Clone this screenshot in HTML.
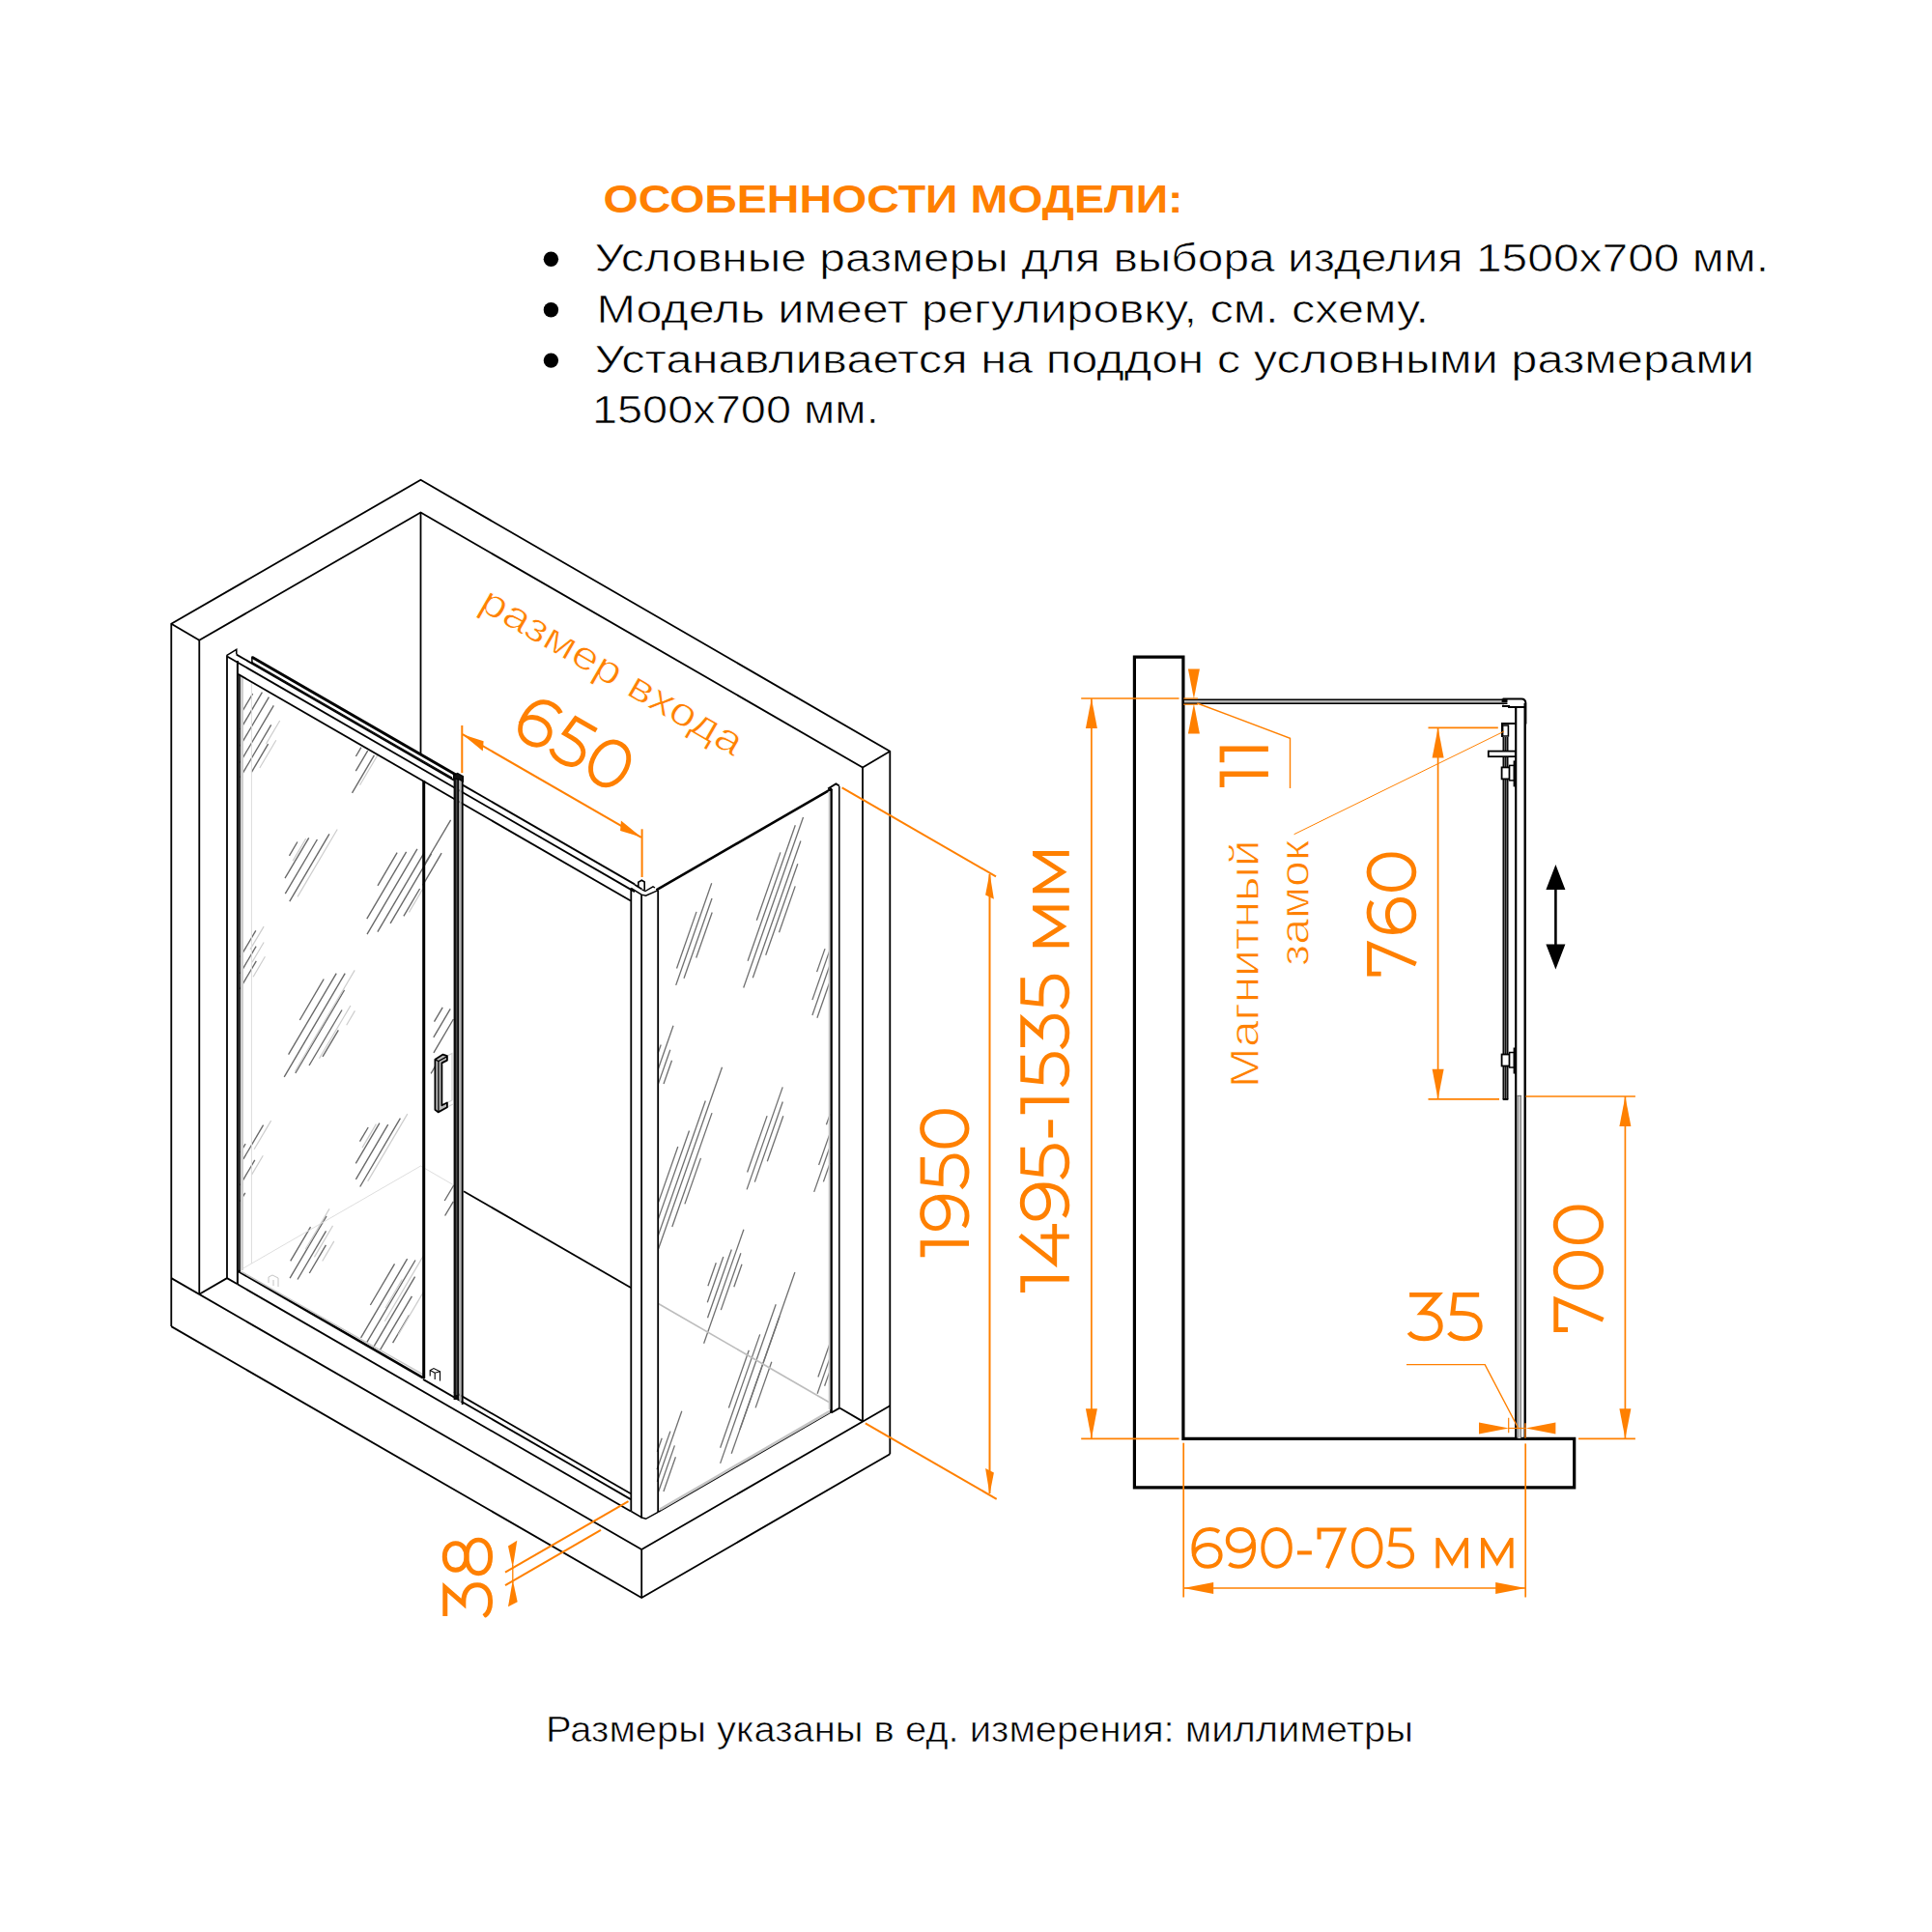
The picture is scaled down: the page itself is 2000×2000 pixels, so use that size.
<!DOCTYPE html>
<html><head><meta charset="utf-8"><title>scheme</title>
<style>html,body{margin:0;padding:0;background:#fff;}svg{display:block;font-family:"Liberation Sans",sans-serif;}</style>
</head><body>
<svg width="2000" height="2000" viewBox="0 0 2000 2000">
<rect width="2000" height="2000" fill="#fff"/>
<text x="624.5" y="220.3" font-size="41" fill="#ff8000" font-weight="bold" text-anchor="start" textLength="600.1" lengthAdjust="spacingAndGlyphs" >ОСОБЕННОСТИ МОДЕЛИ:</text>
<text x="615.5" y="281.2" font-size="41.2" fill="#000" font-weight="normal" text-anchor="start" textLength="1215.6" lengthAdjust="spacingAndGlyphs" stroke="#fff" stroke-width="0.7" >Условные размеры для выбора изделия 1500х700 мм.</text>
<text x="617.4" y="333.5" font-size="41.2" fill="#000" font-weight="normal" text-anchor="start" textLength="861.6" lengthAdjust="spacingAndGlyphs" stroke="#fff" stroke-width="0.7" >Модель имеет регулировку, см. схему.</text>
<text x="615.5" y="386.0" font-size="41.2" fill="#000" font-weight="normal" text-anchor="start" textLength="1200.5" lengthAdjust="spacingAndGlyphs" stroke="#fff" stroke-width="0.7" >Устанавливается на поддон с условными размерами</text>
<text x="612.9" y="438.4" font-size="41.2" fill="#000" font-weight="normal" text-anchor="start" textLength="296.8" lengthAdjust="spacingAndGlyphs" stroke="#fff" stroke-width="0.7" >1500х700 мм.</text>
<circle cx="570.4" cy="268.3" r="7.7" fill="#000"/>
<circle cx="570.4" cy="320.7" r="7.7" fill="#000"/>
<circle cx="570.4" cy="373.1" r="7.7" fill="#000"/>
<text x="565.0" y="1802.8" font-size="36.5" fill="#000" font-weight="normal" text-anchor="start" textLength="898.0" lengthAdjust="spacingAndGlyphs" stroke="#fff" stroke-width="0.6" >Размеры указаны в ед. измерения: миллиметры</text>
<g transform="translate(1106.8 1338.0) rotate(-90) translate(0.00 -50.50) scale(1.1333 1.0000)"><path d="M0 2.45 L12.55 2.45 L12.55 50.5" fill="none" stroke="#ff8000" stroke-width="4.9" stroke-linejoin="miter" stroke-miterlimit="6"/></g>
<g transform="translate(1106.8 1338.0) rotate(-90) translate(27.30 -50.50) scale(1.0000 1.0000)"><path d="M31.8 -0.3 L3.6 35.4 L43.7 35.4" fill="none" stroke="#ff8000" stroke-width="4.9" stroke-linejoin="miter" stroke-miterlimit="6"/><path d="M30.6 21 L30.6 50.5" fill="none" stroke="#ff8000" stroke-width="4.9" stroke-linejoin="miter" stroke-miterlimit="6"/></g>
<g transform="translate(1106.8 1338.0) rotate(-90) translate(74.40 -50.50) scale(1.0317 1.0000)"><path d="M33.6 5.4 C30.5 3.2 26.6 1.95 22.2 1.95 C9.6 1.95 2.45 11.5 2.45 26.5 C2.45 40.5 9 48.55 20 48.55 C29 48.55 35.35 42.6 35.35 34.6 C35.35 26.8 29.2 21.2 20.4 21.2 C11 21.2 2.9 27.2 2.9 35.5" transform="rotate(180 18.90 25.25)" fill="none" stroke="#ff8000" stroke-width="4.9" stroke-linejoin="miter" stroke-miterlimit="6"/></g>
<g transform="translate(1106.8 1338.0) rotate(-90) translate(117.40 -50.50) scale(1.0111 1.0000)"><path d="M32.5 2.45 L7.6 2.45 L5.4 21.6 L14.5 21.6 C26.5 21.6 33.55 26.8 33.55 35.3 C33.55 43.5 27 48.55 17 48.55 C10 48.55 4.6 46 1.6 42.2" fill="none" stroke="#ff8000" stroke-width="4.9" stroke-linejoin="miter" stroke-miterlimit="6"/></g>
<g transform="translate(1106.8 1338.0) rotate(-90) translate(160.50 -50.50) scale(1.0111 1.0000)"><path d="M0 31.35 L18 31.35" fill="none" stroke="#ff8000" stroke-width="4.9" stroke-linejoin="miter" stroke-miterlimit="6"/></g>
<g transform="translate(1106.8 1338.0) rotate(-90) translate(184.70 -50.50) scale(1.1267 1.0000)"><path d="M0 2.45 L12.55 2.45 L12.55 50.5" fill="none" stroke="#ff8000" stroke-width="4.9" stroke-linejoin="miter" stroke-miterlimit="6"/></g>
<g transform="translate(1106.8 1338.0) rotate(-90) translate(213.00 -50.50) scale(0.9917 1.0000)"><path d="M32.5 2.45 L7.6 2.45 L5.4 21.6 L14.5 21.6 C26.5 21.6 33.55 26.8 33.55 35.3 C33.55 43.5 27 48.55 17 48.55 C10 48.55 4.6 46 1.6 42.2" fill="none" stroke="#ff8000" stroke-width="4.9" stroke-linejoin="miter" stroke-miterlimit="6"/></g>
<g transform="translate(1106.8 1338.0) rotate(-90) translate(252.30 -50.50) scale(0.9808 1.0000)"><path d="M1.8 2.45 L31.2 2.45 L14.6 21.2 L16.5 21.2 C27.5 21.2 33.95 26.8 33.95 35.3 C33.95 43.5 27 48.55 16.8 48.55 C9.6 48.55 4.2 46 1.4 42" fill="none" stroke="#ff8000" stroke-width="4.9" stroke-linejoin="miter" stroke-miterlimit="6"/></g>
<g transform="translate(1106.8 1338.0) rotate(-90) translate(293.50 -50.50) scale(0.9917 1.0000)"><path d="M32.5 2.45 L7.6 2.45 L5.4 21.6 L14.5 21.6 C26.5 21.6 33.55 26.8 33.55 35.3 C33.55 43.5 27 48.55 17 48.55 C10 48.55 4.6 46 1.6 42.2" fill="none" stroke="#ff8000" stroke-width="4.9" stroke-linejoin="miter" stroke-miterlimit="6"/></g>
<g transform="translate(1106.8 1338.0) rotate(-90) translate(357.80 -50.50) scale(1.0000 1.0000)"><path d="M2.45 50.5 L2.45 12.7" fill="none" stroke="#ff8000" stroke-width="4.9" stroke-linejoin="miter" stroke-miterlimit="6"/><path d="M40.15 50.5 L40.15 12.7" fill="none" stroke="#ff8000" stroke-width="4.9" stroke-linejoin="miter" stroke-miterlimit="6"/><path d="M3 14.6 L21.3 43.6 L39.6 14.6" fill="none" stroke="#ff8000" stroke-width="4.9" stroke-linejoin="miter" stroke-miterlimit="6"/></g>
<g transform="translate(1106.8 1338.0) rotate(-90) translate(413.70 -50.50) scale(1.0164 1.0000)"><path d="M2.45 50.5 L2.45 12.7" fill="none" stroke="#ff8000" stroke-width="4.9" stroke-linejoin="miter" stroke-miterlimit="6"/><path d="M40.15 50.5 L40.15 12.7" fill="none" stroke="#ff8000" stroke-width="4.9" stroke-linejoin="miter" stroke-miterlimit="6"/><path d="M3 14.6 L21.3 43.6 L39.6 14.6" fill="none" stroke="#ff8000" stroke-width="4.9" stroke-linejoin="miter" stroke-miterlimit="6"/></g>
<g transform="translate(1003.0 1301.3) rotate(-90) translate(0.00 -50.40) scale(1.1400 0.9980)"><path d="M0 2.45 L12.55 2.45 L12.55 50.5" fill="none" stroke="#ff8000" stroke-width="4.9" stroke-linejoin="miter" stroke-miterlimit="6"/></g>
<g transform="translate(1003.0 1301.3) rotate(-90) translate(27.20 -50.40) scale(0.9894 0.9980)"><path d="M33.6 5.4 C30.5 3.2 26.6 1.95 22.2 1.95 C9.6 1.95 2.45 11.5 2.45 26.5 C2.45 40.5 9 48.55 20 48.55 C29 48.55 35.35 42.6 35.35 34.6 C35.35 26.8 29.2 21.2 20.4 21.2 C11 21.2 2.9 27.2 2.9 35.5" transform="rotate(180 18.90 25.25)" fill="none" stroke="#ff8000" stroke-width="4.9" stroke-linejoin="miter" stroke-miterlimit="6"/></g>
<g transform="translate(1003.0 1301.3) rotate(-90) translate(70.50 -50.40) scale(1.0111 0.9980)"><path d="M32.5 2.45 L7.6 2.45 L5.4 21.6 L14.5 21.6 C26.5 21.6 33.55 26.8 33.55 35.3 C33.55 43.5 27 48.55 17 48.55 C10 48.55 4.6 46 1.6 42.2" fill="none" stroke="#ff8000" stroke-width="4.9" stroke-linejoin="miter" stroke-miterlimit="6"/></g>
<g transform="translate(1003.0 1301.3) rotate(-90) translate(112.80 -50.40) scale(0.9975 0.9980)"><path d="M20.2 1.95 C31 1.95 37.95 12 37.95 25.25 C37.95 38.5 31 48.55 20.2 48.55 C9.4 48.55 2.45 38.5 2.45 25.25 C2.45 12 9.4 1.95 20.2 1.95 Z" fill="none" stroke="#ff8000" stroke-width="4.9" stroke-linejoin="miter" stroke-miterlimit="6"/></g>
<g transform="translate(1465.8 1010.6) rotate(-90) translate(0.00 -50.70) scale(1.0000 1.0040)"><path d="M2.45 14.5 L2.45 2.45 L33.2 2.45 L12.6 50.5" fill="none" stroke="#ff8000" stroke-width="4.9" stroke-linejoin="miter" stroke-miterlimit="6"/></g>
<g transform="translate(1465.8 1010.6) rotate(-90) translate(43.70 -50.70) scale(1.0000 1.0040)"><path d="M33.6 5.4 C30.5 3.2 26.6 1.95 22.2 1.95 C9.6 1.95 2.45 11.5 2.45 26.5 C2.45 40.5 9 48.55 20 48.55 C29 48.55 35.35 42.6 35.35 34.6 C35.35 26.8 29.2 21.2 20.4 21.2 C11 21.2 2.9 27.2 2.9 35.5" fill="none" stroke="#ff8000" stroke-width="4.9" stroke-linejoin="miter" stroke-miterlimit="6"/></g>
<g transform="translate(1465.8 1010.6) rotate(-90) translate(87.70 -50.70) scale(1.0025 1.0040)"><path d="M20.2 1.95 C31 1.95 37.95 12 37.95 25.25 C37.95 38.5 31 48.55 20.2 48.55 C9.4 48.55 2.45 38.5 2.45 25.25 C2.45 12 9.4 1.95 20.2 1.95 Z" fill="none" stroke="#ff8000" stroke-width="4.9" stroke-linejoin="miter" stroke-miterlimit="6"/></g>
<g transform="translate(1659.6 1378.9) rotate(-90) translate(0.00 -51.30) scale(1.0081 1.0158)"><path d="M2.45 14.5 L2.45 2.45 L33.2 2.45 L12.6 50.5" fill="none" stroke="#ff8000" stroke-width="4.9" stroke-linejoin="miter" stroke-miterlimit="6"/></g>
<g transform="translate(1659.6 1378.9) rotate(-90) translate(43.80 -51.30) scale(0.9901 1.0158)"><path d="M20.2 1.95 C31 1.95 37.95 12 37.95 25.25 C37.95 38.5 31 48.55 20.2 48.55 C9.4 48.55 2.45 38.5 2.45 25.25 C2.45 12 9.4 1.95 20.2 1.95 Z" fill="none" stroke="#ff8000" stroke-width="4.9" stroke-linejoin="miter" stroke-miterlimit="6"/></g>
<g transform="translate(1659.6 1378.9) rotate(-90) translate(90.80 -51.30) scale(1.0025 1.0158)"><path d="M20.2 1.95 C31 1.95 37.95 12 37.95 25.25 C37.95 38.5 31 48.55 20.2 48.55 C9.4 48.55 2.45 38.5 2.45 25.25 C2.45 12 9.4 1.95 20.2 1.95 Z" fill="none" stroke="#ff8000" stroke-width="4.9" stroke-linejoin="miter" stroke-miterlimit="6"/></g>
<g transform="translate(1312.9 815.0) rotate(-90) translate(0.00 -50.30) scale(1.0933 0.9960)"><path d="M0 2.45 L12.55 2.45 L12.55 50.5" fill="none" stroke="#ff8000" stroke-width="4.9" stroke-linejoin="miter" stroke-miterlimit="6"/></g>
<g transform="translate(1312.9 815.0) rotate(-90) translate(25.80 -50.30) scale(1.1200 0.9960)"><path d="M0 2.45 L12.55 2.45 L12.55 50.5" fill="none" stroke="#ff8000" stroke-width="4.9" stroke-linejoin="miter" stroke-miterlimit="6"/></g>
<clipPath id="c38"><rect x="400" y="1500" width="200" height="174.6"/></clipPath>
<g clip-path="url(#c38)">
<g transform="translate(509.6 1674.7) rotate(-90) translate(0.00 -51.30) scale(1.0000 1.0158)"><path d="M1.8 2.45 L31.2 2.45 L14.6 21.2 L16.5 21.2 C27.5 21.2 33.95 26.8 33.95 35.3 C33.95 43.5 27 48.55 16.8 48.55 C9.6 48.55 4.2 46 1.4 42" fill="none" stroke="#ff8000" stroke-width="4.9" stroke-linejoin="miter" stroke-miterlimit="6"/></g>
<g transform="translate(509.6 1674.7) rotate(-90) translate(43.50 -51.30) scale(1.0000 1.0158)"><path d="M19.75 1.95 C28 1.95 33.6 6.8 33.6 13.2 C33.6 19.8 28 24.3 19.75 24.3 C11.5 24.3 5.9 19.8 5.9 13.2 C5.9 6.8 11.5 1.95 19.75 1.95 Z" fill="none" stroke="#ff8000" stroke-width="4.9" stroke-linejoin="miter" stroke-miterlimit="6"/><path d="M19.75 24.3 C30 24.3 37.05 29.3 37.05 36.4 C37.05 43.6 30 48.55 19.75 48.55 C9.5 48.55 2.45 43.6 2.45 36.4 C2.45 29.3 9.5 24.3 19.75 24.3 Z" fill="none" stroke="#ff8000" stroke-width="4.9" stroke-linejoin="miter" stroke-miterlimit="6"/></g>
</g>
<g transform="translate(0.0 1387.8) rotate(0) translate(1457.30 -49.80) scale(1.0000 0.9861)"><path d="M1.8 2.45 L31.2 2.45 L14.6 21.2 L16.5 21.2 C27.5 21.2 33.95 26.8 33.95 35.3 C33.95 43.5 27 48.55 16.8 48.55 C9.6 48.55 4.2 46 1.4 42" fill="none" stroke="#ff8000" stroke-width="4.9" stroke-linejoin="miter" stroke-miterlimit="6"/></g>
<g transform="translate(0.0 1387.8) rotate(0) translate(1498.40 -49.80) scale(1.0083 0.9861)"><path d="M32.5 2.45 L7.6 2.45 L5.4 21.6 L14.5 21.6 C26.5 21.6 33.55 26.8 33.55 35.3 C33.55 43.5 27 48.55 17 48.55 C10 48.55 4.6 46 1.6 42.2" fill="none" stroke="#ff8000" stroke-width="4.9" stroke-linejoin="miter" stroke-miterlimit="6"/></g>
<g transform="translate(0.0 1623.3) rotate(0) translate(1233.40 -41.90) scale(0.8519 0.8297)"><path d="M33.6 5.4 C30.5 3.2 26.6 1.95 22.2 1.95 C9.6 1.95 2.45 11.5 2.45 26.5 C2.45 40.5 9 48.55 20 48.55 C29 48.55 35.35 42.6 35.35 34.6 C35.35 26.8 29.2 21.2 20.4 21.2 C11 21.2 2.9 27.2 2.9 35.5" fill="none" stroke="#ff8000" stroke-width="4.9" stroke-linejoin="miter" stroke-miterlimit="6"/></g>
<g transform="translate(0.0 1623.3) rotate(0) translate(1268.80 -41.90) scale(0.8280 0.8297)"><path d="M33.6 5.4 C30.5 3.2 26.6 1.95 22.2 1.95 C9.6 1.95 2.45 11.5 2.45 26.5 C2.45 40.5 9 48.55 20 48.55 C29 48.55 35.35 42.6 35.35 34.6 C35.35 26.8 29.2 21.2 20.4 21.2 C11 21.2 2.9 27.2 2.9 35.5" transform="rotate(180 18.90 25.25)" fill="none" stroke="#ff8000" stroke-width="4.9" stroke-linejoin="miter" stroke-miterlimit="6"/></g>
<g transform="translate(0.0 1623.3) rotate(0) translate(1305.30 -41.90) scale(0.8045 0.8297)"><path d="M20.2 1.95 C31 1.95 37.95 12 37.95 25.25 C37.95 38.5 31 48.55 20.2 48.55 C9.4 48.55 2.45 38.5 2.45 25.25 C2.45 12 9.4 1.95 20.2 1.95 Z" fill="none" stroke="#ff8000" stroke-width="4.9" stroke-linejoin="miter" stroke-miterlimit="6"/></g>
<g transform="translate(0.0 1623.3) rotate(0) translate(1343.00 -41.90) scale(0.8278 0.8297)"><path d="M0 31.35 L18 31.35" fill="none" stroke="#ff8000" stroke-width="4.9" stroke-linejoin="miter" stroke-miterlimit="6"/></g>
<g transform="translate(0.0 1623.3) rotate(0) translate(1363.50 -41.90) scale(0.8320 0.8297)"><path d="M2.45 14.5 L2.45 2.45 L33.2 2.45 L12.6 50.5" fill="none" stroke="#ff8000" stroke-width="4.9" stroke-linejoin="miter" stroke-miterlimit="6"/></g>
<g transform="translate(0.0 1623.3) rotate(0) translate(1398.90 -41.90) scale(0.8069 0.8297)"><path d="M20.2 1.95 C31 1.95 37.95 12 37.95 25.25 C37.95 38.5 31 48.55 20.2 48.55 C9.4 48.55 2.45 38.5 2.45 25.25 C2.45 12 9.4 1.95 20.2 1.95 Z" fill="none" stroke="#ff8000" stroke-width="4.9" stroke-linejoin="miter" stroke-miterlimit="6"/></g>
<g transform="translate(0.0 1623.3) rotate(0) translate(1435.20 -41.90) scale(0.8028 0.8297)"><path d="M32.5 2.45 L7.6 2.45 L5.4 21.6 L14.5 21.6 C26.5 21.6 33.55 26.8 33.55 35.3 C33.55 43.5 27 48.55 17 48.55 C10 48.55 4.6 46 1.6 42.2" fill="none" stroke="#ff8000" stroke-width="4.9" stroke-linejoin="miter" stroke-miterlimit="6"/></g>
<g transform="translate(0.0 1623.3) rotate(0) translate(1486.40 -41.90) scale(0.7887 0.8297)"><path d="M2.45 50.5 L2.45 12.7" fill="none" stroke="#ff8000" stroke-width="4.9" stroke-linejoin="miter" stroke-miterlimit="6"/><path d="M40.15 50.5 L40.15 12.7" fill="none" stroke="#ff8000" stroke-width="4.9" stroke-linejoin="miter" stroke-miterlimit="6"/><path d="M3 14.6 L21.3 43.6 L39.6 14.6" fill="none" stroke="#ff8000" stroke-width="4.9" stroke-linejoin="miter" stroke-miterlimit="6"/></g>
<g transform="translate(0.0 1623.3) rotate(0) translate(1533.00 -41.90) scale(0.7887 0.8297)"><path d="M2.45 50.5 L2.45 12.7" fill="none" stroke="#ff8000" stroke-width="4.9" stroke-linejoin="miter" stroke-miterlimit="6"/><path d="M40.15 50.5 L40.15 12.7" fill="none" stroke="#ff8000" stroke-width="4.9" stroke-linejoin="miter" stroke-miterlimit="6"/><path d="M3 14.6 L21.3 43.6 L39.6 14.6" fill="none" stroke="#ff8000" stroke-width="4.9" stroke-linejoin="miter" stroke-miterlimit="6"/></g>
<g transform="translate(528.8 760.5) rotate(30) translate(0.00 -50.50) scale(1.0000 1.0000)"><path d="M33.6 5.4 C30.5 3.2 26.6 1.95 22.2 1.95 C9.6 1.95 2.45 11.5 2.45 26.5 C2.45 40.5 9 48.55 20 48.55 C29 48.55 35.35 42.6 35.35 34.6 C35.35 26.8 29.2 21.2 20.4 21.2 C11 21.2 2.9 27.2 2.9 35.5" fill="none" stroke="#ff8000" stroke-width="4.9" stroke-linejoin="miter" stroke-miterlimit="6"/></g>
<g transform="translate(528.8 760.5) rotate(30) translate(42.20 -50.50) scale(1.0000 1.0000)"><path d="M32.5 2.45 L7.6 2.45 L5.4 21.6 L14.5 21.6 C26.5 21.6 33.55 26.8 33.55 35.3 C33.55 43.5 27 48.55 17 48.55 C10 48.55 4.6 46 1.6 42.2" fill="none" stroke="#ff8000" stroke-width="4.9" stroke-linejoin="miter" stroke-miterlimit="6"/></g>
<g transform="translate(528.8 760.5) rotate(30) translate(83.40 -50.50) scale(1.0000 1.0000)"><path d="M20.2 1.95 C31 1.95 37.95 12 37.95 25.25 C37.95 38.5 31 48.55 20.2 48.55 C9.4 48.55 2.45 38.5 2.45 25.25 C2.45 12 9.4 1.95 20.2 1.95 Z" fill="none" stroke="#ff8000" stroke-width="4.9" stroke-linejoin="miter" stroke-miterlimit="6"/></g>
<text transform="translate(1302.8 1126.0) rotate(-90)" font-size="42.3" fill="#ff8000" font-weight="normal" text-anchor="start" textLength="256.5" lengthAdjust="spacingAndGlyphs" stroke="#fff" stroke-width="0.9" >Магнитный</text>
<text transform="translate(1355.1 999.9) rotate(-90)" font-size="42.3" fill="#ff8000" font-weight="normal" text-anchor="start" textLength="129.9" lengthAdjust="spacingAndGlyphs" stroke="#fff" stroke-width="0.9" >замок</text>
<text transform="translate(494.1 630.0) rotate(30)" font-size="41" fill="#ff8000" font-weight="normal" text-anchor="start" textLength="306.8" lengthAdjust="spacingAndGlyphs" stroke="#fff" stroke-width="0.8" >размер входа</text>
<line x1="249.6" y1="738.5" x2="261.6" y2="718.1" stroke="#686868" stroke-width="1.35" />
<line x1="248.8" y1="755.2" x2="271.4" y2="716.7" stroke="#686868" stroke-width="1.35" />
<line x1="248.5" y1="772.3" x2="278.4" y2="721.6" stroke="#686868" stroke-width="1.35" />
<line x1="248.4" y1="789.5" x2="283.3" y2="730.3" stroke="#686868" stroke-width="1.35" />
<line x1="248.6" y1="804.9" x2="280.7" y2="750.4" stroke="#686868" stroke-width="1.35" />
<line x1="260.4" y1="799.4" x2="277.6" y2="770.2" stroke="#686868" stroke-width="1.35" />
<line x1="368.4" y1="783.0" x2="373.9" y2="773.6" stroke="#686868" stroke-width="1.35" />
<line x1="368.3" y1="798.2" x2="380.7" y2="777.1" stroke="#686868" stroke-width="1.35" />
<line x1="364.5" y1="820.8" x2="387.4" y2="781.9" stroke="#686868" stroke-width="1.35" />
<line x1="299.5" y1="885.8" x2="307.9" y2="871.5" stroke="#686868" stroke-width="1.35" />
<line x1="295.0" y1="909.2" x2="319.7" y2="867.3" stroke="#686868" stroke-width="1.35" />
<line x1="295.3" y1="925.2" x2="328.4" y2="869.0" stroke="#686868" stroke-width="1.35" />
<line x1="299.8" y1="933.2" x2="340.9" y2="863.3" stroke="#686868" stroke-width="1.35" />
<line x1="391.0" y1="916.8" x2="411.1" y2="882.6" stroke="#686868" stroke-width="1.35" />
<line x1="379.8" y1="951.1" x2="420.6" y2="881.8" stroke="#686868" stroke-width="1.35" />
<line x1="380.0" y1="967.1" x2="431.9" y2="878.9" stroke="#686868" stroke-width="1.35" />
<line x1="390.9" y1="964.6" x2="439.6" y2="881.8" stroke="#686868" stroke-width="1.35" />
<line x1="404.1" y1="955.8" x2="446.5" y2="883.8" stroke="#686868" stroke-width="1.35" />
<line x1="417.9" y1="948.4" x2="434.6" y2="920.0" stroke="#686868" stroke-width="1.35" />
<line x1="438.5" y1="896.5" x2="466.6" y2="848.8" stroke="#686868" stroke-width="1.35" />
<line x1="437.6" y1="916.3" x2="457.1" y2="883.1" stroke="#686868" stroke-width="1.35" />
<line x1="248.7" y1="990.7" x2="264.8" y2="963.4" stroke="#686868" stroke-width="1.35" />
<line x1="248.5" y1="1007.8" x2="265.1" y2="979.7" stroke="#686868" stroke-width="1.35" />
<line x1="248.2" y1="1023.9" x2="265.3" y2="994.8" stroke="#686868" stroke-width="1.35" />
<line x1="268.8" y1="795.0" x2="285.8" y2="766.2" stroke="#cdcdcd" stroke-width="1.2" />
<line x1="275.5" y1="770.0" x2="289.7" y2="746.0" stroke="#cdcdcd" stroke-width="1.2" />
<line x1="372.5" y1="812.8" x2="390.9" y2="781.7" stroke="#cdcdcd" stroke-width="1.2" />
<line x1="308.0" y1="928.4" x2="349.2" y2="858.5" stroke="#cdcdcd" stroke-width="1.2" />
<line x1="303.2" y1="891.1" x2="316.7" y2="868.1" stroke="#cdcdcd" stroke-width="1.2" />
<line x1="259.0" y1="982.9" x2="273.1" y2="959.1" stroke="#cdcdcd" stroke-width="1.2" />
<line x1="260.9" y1="996.3" x2="273.1" y2="975.5" stroke="#cdcdcd" stroke-width="1.2" />
<line x1="262.1" y1="1011.2" x2="274.4" y2="990.2" stroke="#cdcdcd" stroke-width="1.2" />
<line x1="423.4" y1="944.4" x2="437.7" y2="920.1" stroke="#cdcdcd" stroke-width="1.2" />
<line x1="310.3" y1="1056.0" x2="335.2" y2="1013.5" stroke="#686868" stroke-width="1.35" />
<line x1="298.6" y1="1091.7" x2="348.2" y2="1007.6" stroke="#686868" stroke-width="1.35" />
<line x1="294.2" y1="1114.8" x2="357.2" y2="1007.6" stroke="#686868" stroke-width="1.35" />
<line x1="305.8" y1="1110.8" x2="356.5" y2="1024.8" stroke="#686868" stroke-width="1.35" />
<line x1="320.0" y1="1103.0" x2="354.0" y2="1045.5" stroke="#686868" stroke-width="1.35" />
<line x1="334.0" y1="1093.8" x2="350.3" y2="1066.3" stroke="#686868" stroke-width="1.35" />
<line x1="305.5" y1="1109.1" x2="367.2" y2="1004.4" stroke="#cdcdcd" stroke-width="1.2" />
<line x1="330.5" y1="1095.8" x2="362.9" y2="1041.0" stroke="#cdcdcd" stroke-width="1.2" />
<line x1="372.5" y1="1181.7" x2="381.2" y2="1167.0" stroke="#686868" stroke-width="1.35" />
<line x1="368.3" y1="1204.4" x2="392.9" y2="1162.7" stroke="#686868" stroke-width="1.35" />
<line x1="368.4" y1="1220.8" x2="401.7" y2="1164.2" stroke="#686868" stroke-width="1.35" />
<line x1="372.7" y1="1228.5" x2="414.4" y2="1157.7" stroke="#686868" stroke-width="1.35" />
<line x1="251.9" y1="1199.8" x2="272.6" y2="1164.6" stroke="#686868" stroke-width="1.35" />
<line x1="248.5" y1="1226.8" x2="263.8" y2="1200.9" stroke="#686868" stroke-width="1.35" />
<line x1="248.5" y1="1243.7" x2="253.8" y2="1234.8" stroke="#686868" stroke-width="1.35" />
<line x1="248.8" y1="1193.0" x2="254.1" y2="1184.1" stroke="#686868" stroke-width="1.35" />
<line x1="300.7" y1="1305.4" x2="321.5" y2="1270.1" stroke="#686868" stroke-width="1.35" />
<line x1="300.1" y1="1323.1" x2="338.0" y2="1258.8" stroke="#686868" stroke-width="1.35" />
<line x1="308.0" y1="1324.5" x2="337.5" y2="1274.4" stroke="#686868" stroke-width="1.35" />
<line x1="320.3" y1="1318.0" x2="337.4" y2="1288.9" stroke="#686868" stroke-width="1.35" />
<line x1="383.4" y1="1351.0" x2="408.5" y2="1308.4" stroke="#686868" stroke-width="1.35" />
<line x1="373.6" y1="1384.8" x2="421.6" y2="1303.2" stroke="#686868" stroke-width="1.35" />
<line x1="379.6" y1="1389.9" x2="430.0" y2="1304.5" stroke="#686868" stroke-width="1.35" />
<line x1="385.7" y1="1396.1" x2="429.6" y2="1321.6" stroke="#686868" stroke-width="1.35" />
<line x1="393.1" y1="1398.2" x2="426.4" y2="1341.8" stroke="#686868" stroke-width="1.35" />
<line x1="406.6" y1="1390.2" x2="423.5" y2="1361.5" stroke="#686868" stroke-width="1.35" />
<line x1="449.5" y1="1057.7" x2="458.2" y2="1042.9" stroke="#686868" stroke-width="1.35" />
<line x1="448.8" y1="1073.8" x2="466.2" y2="1044.4" stroke="#686868" stroke-width="1.35" />
<line x1="448.9" y1="1089.8" x2="469.4" y2="1055.0" stroke="#686868" stroke-width="1.35" />
<line x1="446.1" y1="1111.3" x2="452.0" y2="1101.4" stroke="#686868" stroke-width="1.35" />
<line x1="460.2" y1="1243.0" x2="469.7" y2="1227.0" stroke="#686868" stroke-width="1.35" />
<line x1="460.6" y1="1258.5" x2="469.3" y2="1243.8" stroke="#686868" stroke-width="1.35" />
<line x1="380.7" y1="1222.9" x2="421.8" y2="1153.1" stroke="#cdcdcd" stroke-width="1.2" />
<line x1="375.0" y1="1188.1" x2="389.4" y2="1163.6" stroke="#cdcdcd" stroke-width="1.2" />
<line x1="263.1" y1="1189.8" x2="280.6" y2="1160.1" stroke="#cdcdcd" stroke-width="1.2" />
<line x1="260.7" y1="1215.9" x2="272.3" y2="1196.3" stroke="#cdcdcd" stroke-width="1.2" />
<line x1="316.2" y1="1293.4" x2="341.0" y2="1251.4" stroke="#cdcdcd" stroke-width="1.2" />
<line x1="325.4" y1="1301.4" x2="344.5" y2="1268.9" stroke="#cdcdcd" stroke-width="1.2" />
<line x1="333.7" y1="1305.5" x2="345.8" y2="1284.9" stroke="#cdcdcd" stroke-width="1.2" />
<line x1="399.0" y1="1354.0" x2="416.3" y2="1324.5" stroke="#cdcdcd" stroke-width="1.2" />
<line x1="412.2" y1="1381.9" x2="438.1" y2="1337.9" stroke="#cdcdcd" stroke-width="1.2" />
<line x1="398.3" y1="1367.8" x2="438.2" y2="1300.1" stroke="#cdcdcd" stroke-width="1.2" />
<line x1="358.7" y1="1061.2" x2="367.4" y2="1046.4" stroke="#cdcdcd" stroke-width="1.2" />
<line x1="700.5" y1="1002.5" x2="721.0" y2="943.9" stroke="#707070" stroke-width="1.3" />
<line x1="699.7" y1="1019.9" x2="736.7" y2="914.3" stroke="#707070" stroke-width="1.3" />
<line x1="708.0" y1="1012.8" x2="737.0" y2="930.0" stroke="#707070" stroke-width="1.3" />
<line x1="720.7" y1="991.5" x2="737.2" y2="944.5" stroke="#707070" stroke-width="1.3" />
<line x1="783.3" y1="952.8" x2="807.9" y2="882.4" stroke="#707070" stroke-width="1.3" />
<line x1="774.1" y1="994.7" x2="823.3" y2="854.2" stroke="#707070" stroke-width="1.3" />
<line x1="769.7" y1="1022.5" x2="831.5" y2="846.0" stroke="#707070" stroke-width="1.3" />
<line x1="779.3" y1="1012.2" x2="828.9" y2="870.5" stroke="#707070" stroke-width="1.3" />
<line x1="792.7" y1="988.8" x2="825.8" y2="894.3" stroke="#707070" stroke-width="1.3" />
<line x1="806.5" y1="965.2" x2="823.2" y2="917.4" stroke="#707070" stroke-width="1.3" />
<line x1="845.6" y1="1006.1" x2="854.0" y2="982.1" stroke="#707070" stroke-width="1.3" />
<line x1="840.9" y1="1035.1" x2="858.8" y2="984.1" stroke="#707070" stroke-width="1.3" />
<line x1="840.9" y1="1051.0" x2="858.8" y2="999.7" stroke="#707070" stroke-width="1.3" />
<line x1="845.9" y1="1053.7" x2="859.0" y2="1016.3" stroke="#707070" stroke-width="1.3" />
<line x1="681.3" y1="1089.9" x2="684.2" y2="1081.5" stroke="#707070" stroke-width="1.3" />
<line x1="681.4" y1="1106.5" x2="697.0" y2="1061.8" stroke="#707070" stroke-width="1.3" />
<line x1="681.5" y1="1121.9" x2="693.8" y2="1086.8" stroke="#707070" stroke-width="1.3" />
<line x1="687.0" y1="1122.0" x2="695.5" y2="1097.7" stroke="#707070" stroke-width="1.3" />
<line x1="855.4" y1="1164.3" x2="859.4" y2="1153.1" stroke="#707070" stroke-width="1.3" />
<line x1="681.4" y1="1261.9" x2="713.5" y2="1170.5" stroke="#707070" stroke-width="1.3" />
<line x1="681.2" y1="1279.4" x2="730.3" y2="1139.5" stroke="#707070" stroke-width="1.3" />
<line x1="681.6" y1="1292.8" x2="747.5" y2="1104.8" stroke="#707070" stroke-width="1.3" />
<line x1="695.8" y1="1270.0" x2="737.0" y2="1152.1" stroke="#707070" stroke-width="1.3" />
<line x1="773.6" y1="1213.5" x2="794.1" y2="1155.1" stroke="#707070" stroke-width="1.3" />
<line x1="773.1" y1="1231.4" x2="810.2" y2="1125.4" stroke="#707070" stroke-width="1.3" />
<line x1="781.3" y1="1223.6" x2="810.3" y2="1140.5" stroke="#707070" stroke-width="1.3" />
<line x1="794.3" y1="1202.3" x2="810.8" y2="1155.2" stroke="#707070" stroke-width="1.3" />
<line x1="847.6" y1="1206.0" x2="859.0" y2="1173.6" stroke="#707070" stroke-width="1.3" />
<line x1="681.7" y1="1244.4" x2="701.8" y2="1187.0" stroke="#707070" stroke-width="1.3" />
<line x1="708.9" y1="1246.4" x2="725.5" y2="1198.9" stroke="#707070" stroke-width="1.3" />
<line x1="842.7" y1="1233.9" x2="859.1" y2="1187.2" stroke="#707070" stroke-width="1.3" />
<line x1="852.4" y1="1223.4" x2="859.3" y2="1203.8" stroke="#707070" stroke-width="1.3" />
<line x1="732.9" y1="1331.3" x2="741.3" y2="1307.2" stroke="#707070" stroke-width="1.3" />
<line x1="732.3" y1="1348.2" x2="748.8" y2="1301.0" stroke="#707070" stroke-width="1.3" />
<line x1="732.5" y1="1364.3" x2="757.3" y2="1293.5" stroke="#707070" stroke-width="1.3" />
<line x1="728.6" y1="1390.7" x2="769.9" y2="1272.8" stroke="#707070" stroke-width="1.3" />
<line x1="746.3" y1="1356.1" x2="766.9" y2="1297.3" stroke="#707070" stroke-width="1.3" />
<line x1="759.8" y1="1332.2" x2="768.0" y2="1308.8" stroke="#707070" stroke-width="1.3" />
<line x1="754.4" y1="1457.5" x2="775.3" y2="1397.7" stroke="#707070" stroke-width="1.3" />
<line x1="745.6" y1="1498.7" x2="786.7" y2="1381.4" stroke="#707070" stroke-width="1.3" />
<line x1="745.6" y1="1514.9" x2="803.2" y2="1350.3" stroke="#707070" stroke-width="1.3" />
<line x1="765.9" y1="1479.8" x2="822.9" y2="1317.0" stroke="#707070" stroke-width="1.3" />
<line x1="757.2" y1="1504.8" x2="807.1" y2="1362.5" stroke="#707070" stroke-width="1.3" />
<line x1="782.1" y1="1457.4" x2="798.8" y2="1409.8" stroke="#707070" stroke-width="1.3" />
<line x1="846.9" y1="1425.5" x2="858.6" y2="1392.0" stroke="#707070" stroke-width="1.3" />
<line x1="846.1" y1="1442.7" x2="858.8" y2="1406.6" stroke="#707070" stroke-width="1.3" />
<line x1="853.6" y1="1434.7" x2="859.1" y2="1419.1" stroke="#707070" stroke-width="1.3" />
<line x1="680.3" y1="1502.8" x2="685.2" y2="1488.7" stroke="#707070" stroke-width="1.3" />
<line x1="680.0" y1="1521.3" x2="693.9" y2="1481.6" stroke="#707070" stroke-width="1.3" />
<line x1="680.3" y1="1533.7" x2="705.8" y2="1460.8" stroke="#707070" stroke-width="1.3" />
<line x1="681.6" y1="1544.3" x2="698.4" y2="1496.4" stroke="#707070" stroke-width="1.3" />
<line x1="686.9" y1="1544.0" x2="699.4" y2="1508.2" stroke="#707070" stroke-width="1.3" />
<path d="M177.3 1373.1 L177.3 645.8 L435.5 496.8 L921.3 777.8 L921.3 1505.2" stroke="#000" stroke-width="1.8" fill="none" />
<path d="M206.3 1339.8 L206.3 662.8 L435.5 530.5 L893.0 794.5 L893.0 1471.4" stroke="#000" stroke-width="1.8" fill="none" />
<line x1="177.3" y1="645.8" x2="206.3" y2="662.8" stroke="#000" stroke-width="1.8" />
<line x1="921.3" y1="777.8" x2="893.0" y2="794.5" stroke="#000" stroke-width="1.8" />
<line x1="435.5" y1="530.5" x2="435.5" y2="781.0" stroke="#000" stroke-width="1.8" />
<path d="M177.3 1323.1 L664.2 1604.0 L921.3 1455.2" stroke="#000" stroke-width="1.8" fill="none" />
<path d="M177.3 1373.1 L664.2 1654.0 L921.3 1505.2" stroke="#000" stroke-width="1.8" fill="none" />
<line x1="664.2" y1="1604.0" x2="664.2" y2="1654.0" stroke="#000" stroke-width="1.8" />
<line x1="206.3" y1="1339.8" x2="235.0" y2="1323.1" stroke="#000" stroke-width="1.8" />
<line x1="893.0" y1="1471.4" x2="869.2" y2="1457.5" stroke="#000" stroke-width="1.8" />
<line x1="480.0" y1="1233.2" x2="653.0" y2="1333.0" stroke="#000" stroke-width="1.8" />
<line x1="250.0" y1="1314.0" x2="435.5" y2="1207.0" stroke="#dedede" stroke-width="1" />
<line x1="435.5" y1="1207.0" x2="470.0" y2="1227.0" stroke="#dedede" stroke-width="1" />
<line x1="681.5" y1="1349.5" x2="858.5" y2="1451.7" stroke="#bdbdbd" stroke-width="1.6" />
<path d="M244.8 677.6 L244.8 672.4 L234.5 678.6" stroke="#000" stroke-width="1.5" fill="none" />
<line x1="235.0" y1="678.6" x2="235.0" y2="1323.1" stroke="#000" stroke-width="1.8" />
<line x1="245.9" y1="684.0" x2="245.9" y2="1329.3" stroke="#000" stroke-width="2" />
<line x1="235.0" y1="1323.1" x2="245.7" y2="1329.3" stroke="#000" stroke-width="1.8" />
<line x1="248.0" y1="698.5" x2="248.0" y2="1316.5" stroke="#000" stroke-width="1.6" />
<rect x="249" y="700" width="3" height="615" fill="#cfcfcf"/>
<line x1="260.4" y1="706.0" x2="260.4" y2="1308.0" stroke="#dcdcdc" stroke-width="1" />
<line x1="244.8" y1="677.6" x2="470.0" y2="807.6" stroke="#000" stroke-width="1.8" />
<line x1="235.5" y1="679.7" x2="657.0" y2="923.1" stroke="#000" stroke-width="1.8" />
<line x1="246.4" y1="697.8" x2="652.9" y2="932.5" stroke="#000" stroke-width="1.8" />
<line x1="478.9" y1="812.6" x2="657.0" y2="915.4" stroke="#000" stroke-width="1.8" />
<line x1="260.9" y1="680.2" x2="473.2" y2="802.8" stroke="#000" stroke-width="3" />
<line x1="260.9" y1="679.5" x2="260.9" y2="687.0" stroke="#000" stroke-width="1.5" />
<line x1="260.9" y1="685.5" x2="468.0" y2="805.1" stroke="#000" stroke-width="1.1" />
<line x1="245.7" y1="1329.3" x2="653.0" y2="1564.5" stroke="#000" stroke-width="1.8" />
<line x1="246.4" y1="1315.7" x2="438.0" y2="1426.3" stroke="#000" stroke-width="2.6" />
<line x1="249.0" y1="1316.0" x2="438.0" y2="1422.9" stroke="#c8c8c8" stroke-width="1.5" />
<line x1="438.0" y1="1427.9" x2="653.0" y2="1552.1" stroke="#000" stroke-width="1.8" />
<line x1="470.0" y1="1440.6" x2="653.0" y2="1546.3" stroke="#000" stroke-width="1.8" />
<line x1="438.7" y1="808.0" x2="438.7" y2="1427.0" stroke="#000" stroke-width="3" />
<rect x="469.6" y="803" width="5.8" height="646.0" fill="#0a0a0a"/>
<rect x="471.8" y="806" width="1.6" height="638.0" fill="#4a4a4a"/>
<rect x="475.4" y="806" width="2.4" height="645.0" fill="#b0b0b0"/>
<line x1="478.7" y1="808.0" x2="478.7" y2="1454.0" stroke="#000" stroke-width="1.9" />
<path d="M469.6 806.0 L469.6 802.6 L473.6 800.4 L479.4 803.6 L479.4 809.0 L475.4 807.0 Z" stroke="#000" stroke-width="1.2" fill="#111" />
<path d="M463.0 1093.0 L468.0 1090.5 L468.0 1139.0 L463.0 1141.5" stroke="#d4d4d4" stroke-width="1.2" fill="none" />
<path d="M463.0 1146.0 L469.0 1143.0" stroke="#d4d4d4" stroke-width="1.2" fill="none" />
<path d="M450.4 1096.8 L458.6 1091.6 L462.9 1093.2 L462.9 1097.6 L457.4 1100.4 L457.4 1144.3 L462.9 1141.5 L462.9 1146.3 L453.6 1151.4 L450.4 1148.8 Z" fill="#b9b9b9" stroke="#000" stroke-width="1.8" stroke-linejoin="round"/>
<line x1="453.9" y1="1098.6" x2="453.9" y2="1150.5" stroke="#000" stroke-width="1.3" />
<path d="M450.4 1096.8 L453.9 1098.6 L462.9 1093.6" stroke="#000" stroke-width="1.3" fill="none" />
<path d="M445.2 1424.5 L445.2 1418.5 L449.0 1416.5 L455.5 1419.8 L455.5 1429.5" stroke="#000" stroke-width="1.1" fill="none" />
<path d="M445.2 1418.5 L450.2 1421.2 L455.5 1419.8" stroke="#000" stroke-width="1.1" fill="none" />
<line x1="450.2" y1="1421.2" x2="450.2" y2="1428.0" stroke="#000" stroke-width="1.1" />
<path d="M278.0 1328.0 L278.0 1322.0 L282.0 1320.0 L288.0 1323.0 L288.0 1332.0" stroke="#c4c4c4" stroke-width="1" fill="none" />
<line x1="283.0" y1="1325.0" x2="283.0" y2="1331.0" stroke="#c4c4c4" stroke-width="1" />
<line x1="653.3" y1="919.5" x2="653.3" y2="1564.5" stroke="#000" stroke-width="1.8" />
<line x1="664.1" y1="926.1" x2="664.1" y2="1571.5" stroke="#000" stroke-width="1.8" />
<line x1="681.2" y1="921.6" x2="681.2" y2="1565.3" stroke="#000" stroke-width="1.8" />
<path d="M653.3 1564.5 L664.5 1571.0 L668.6 1572.3 L681.2 1565.3" stroke="#000" stroke-width="1.5" fill="none" />
<path d="M653.3 919.5 L664.1 926.1 L668.5 927.3 L681.2 921.6" stroke="#000" stroke-width="1.5" fill="none" />
<path d="M660.8 918.0 L660.8 913.2 L664.3 911.2 L667.2 913.0 L667.2 921.5" stroke="#000" stroke-width="1.6" fill="none" />
<line x1="657.0" y1="915.8" x2="664.5" y2="920.5" stroke="#000" stroke-width="1.8" />
<path d="M664.5 920.8 L668.0 922.5 L676.0 917.8 L678.0 919.0" stroke="#000" stroke-width="1.4" fill="none" />
<line x1="679.4" y1="921.4" x2="861.3" y2="816.4" stroke="#000" stroke-width="2.6" />
<line x1="681.2" y1="1565.3" x2="860.3" y2="1461.9" stroke="#000" stroke-width="1.5" />
<line x1="683.0" y1="1562.6" x2="859.0" y2="1461.0" stroke="#c4c4c4" stroke-width="2.6" />
<line x1="860.5" y1="817.0" x2="860.5" y2="1462.5" stroke="#000" stroke-width="2.6" />
<rect x="857.6" y="819" width="1.8" height="640" fill="#cfcfcf"/>
<line x1="868.8" y1="813.8" x2="868.8" y2="1457.6" stroke="#000" stroke-width="1.5" />
<path d="M857.1 816.6 L865.4 811.4 L868.8 813.6" stroke="#000" stroke-width="1.8" fill="none" />
<line x1="860.5" y1="1462.5" x2="869.0" y2="1457.6" stroke="#000" stroke-width="1.8" />
<line x1="478.3" y1="751.0" x2="478.3" y2="800.2" stroke="#ff8000" stroke-width="2.0" />
<line x1="664.6" y1="858.3" x2="664.6" y2="908.0" stroke="#ff8000" stroke-width="2.0" />
<line x1="478.9" y1="760.2" x2="663.8" y2="866.9" stroke="#ff8000" stroke-width="2.0" />
<path d="M478.8 760.3 L500.6 767.2 L499.8 777.6 Z M663.7 866.6 L642.9 849.5 L642.1 859.9 Z" fill="#ff8000"/>
<line x1="871.6" y1="815.3" x2="1031.0" y2="907.3" stroke="#ff8000" stroke-width="2.0" />
<line x1="895.8" y1="1473.4" x2="1031.7" y2="1551.8" stroke="#ff8000" stroke-width="2.0" />
<line x1="1024.5" y1="905.0" x2="1024.5" y2="1546.0" stroke="#ff8000" stroke-width="2.0" />
<path d="M1024.5 903.6 L1020.1 926.4 L1028.9 930.8 Z M1024.5 1547 L1020.1 1520.1 L1028.9 1524.5 Z" fill="#ff8000"/>
<line x1="650.5" y1="1554.1" x2="523.0" y2="1627.7" stroke="#ff8000" stroke-width="2.0" />
<line x1="622.0" y1="1583.9" x2="523.0" y2="1641.1" stroke="#ff8000" stroke-width="2.0" />
<path d="M530.8 1623 L526.0 1600.4 L535.3 1594.8 Z" fill="#ff8000"/>
<path d="M530.8 1635.6 L526.0 1663.2 L535.7 1658.2 Z" fill="#ff8000"/>
<line x1="530.8" y1="1620.0" x2="530.8" y2="1639.0" stroke="#ff8000" stroke-width="1.3" />
<path d="M1174.4 680.2 L1224.9 680.2 L1224.9 1489.3 L1629.7 1489.3 L1629.7 1539.8 L1174.4 1539.8 Z" stroke="#000" stroke-width="3.2" fill="none" stroke-linejoin="miter"/>
<rect x="1226" y="724" width="334" height="4.4" fill="#b5b5b5"/>
<line x1="1226.0" y1="724.2" x2="1560.5" y2="724.2" stroke="#000" stroke-width="1.4" />
<line x1="1226.0" y1="728.3" x2="1560.5" y2="728.3" stroke="#000" stroke-width="1.4" />
<path d="M1555.6 723.4 L1575 723.4 Q1579.4 723.4 1579.4 728 L1579.4 749.5 M1555.6 723.4 L1555.6 726 L1560.5 726 M1556 731 L1562 731 L1562 732 L1579 732 M1556 729.8 L1556 732" stroke="#000" stroke-width="2" fill="none"/>
<line x1="1569.2" y1="731.0" x2="1569.2" y2="1489.0" stroke="#000" stroke-width="2.2" />
<line x1="1578.7" y1="728.0" x2="1578.7" y2="1489.0" stroke="#000" stroke-width="2.4" />
<rect x="1570.8" y="1134" width="3.6" height="355" fill="#c8c8c8"/>
<line x1="1571.0" y1="1134.0" x2="1571.0" y2="1489.0" stroke="#555" stroke-width="0.8" />
<line x1="1574.4" y1="1134.0" x2="1574.4" y2="1489.0" stroke="#555" stroke-width="0.8" />
<line x1="1570.6" y1="1134.3" x2="1574.8" y2="1134.3" stroke="#555" stroke-width="0.8" />
<rect x="1556" y="763" width="5" height="375.5" fill="#6a6a6a"/>
<line x1="1556.2" y1="763.0" x2="1556.2" y2="1138.3" stroke="#000" stroke-width="1.4" />
<line x1="1560.8" y1="763.0" x2="1560.8" y2="1138.3" stroke="#000" stroke-width="1.4" />
<line x1="1558.6" y1="763.0" x2="1558.6" y2="1138.0" stroke="#000" stroke-width="0.9" />
<line x1="1555.8" y1="1138.0" x2="1561.2" y2="1138.0" stroke="#000" stroke-width="2" />
<path d="M1555.0 763.0 L1555.0 749.0 L1568.4 749.0" stroke="#000" stroke-width="2" fill="none" />
<path d="M1555.6 751.0 L1561.4 751.0 L1561.4 762.0 L1555.6 762.0 Z" stroke="#000" stroke-width="1.6" fill="none" />
<rect x="1540.8" y="777.6" width="28" height="5.6" fill="#fff" stroke="#000" stroke-width="1.8"/>
<rect x="1554.6" y="794.4" width="8" height="12" fill="#fff" stroke="#000" stroke-width="1.8"/>
<rect x="1562.6" y="792.4" width="5" height="15.5" fill="#fff" stroke="#000" stroke-width="1.5"/>
<line x1="1567.8" y1="787.4" x2="1567.8" y2="814.4" stroke="#000" stroke-width="2.4" />
<rect x="1554.6" y="1091.5" width="8" height="12" fill="#fff" stroke="#000" stroke-width="1.8"/>
<rect x="1562.6" y="1089.5" width="5" height="15.5" fill="#fff" stroke="#000" stroke-width="1.5"/>
<line x1="1567.8" y1="1084.5" x2="1567.8" y2="1111.5" stroke="#000" stroke-width="2.4" />
<line x1="1610.4" y1="915.0" x2="1610.4" y2="985.0" stroke="#000" stroke-width="2.6" />
<path d="M1610.4 895 L1600.4 921 L1620.4 921 Z M1610.4 1003.5 L1600.4 977.5 L1620.4 977.5 Z" fill="#000"/>
<line x1="1119.2" y1="723.0" x2="1220.5" y2="723.0" stroke="#ff8000" stroke-width="1.7" />
<line x1="1119.2" y1="1489.3" x2="1220.5" y2="1489.3" stroke="#ff8000" stroke-width="1.7" />
<line x1="1129.9" y1="723.0" x2="1129.9" y2="1489.3" stroke="#ff8000" stroke-width="1.7" />
<path d="M1129.9 723.0 L1135.9 754.0 L1123.9 754.0 Z" fill="#ff8000"/>
<path d="M1129.9 1489.3 L1123.9 1458.3 L1135.9 1458.3 Z" fill="#ff8000"/>
<path d="M1235.9 723.4 L1229.9 692.4 L1241.9 692.4 Z" fill="#ff8000"/>
<path d="M1235.9 728.6 L1241.9 759.6 L1229.9 759.6 Z" fill="#ff8000"/>
<line x1="1225.2" y1="723.0" x2="1240.0" y2="723.0" stroke="#ff8000" stroke-width="1.2" />
<line x1="1225.2" y1="729.2" x2="1240.0" y2="729.2" stroke="#ff8000" stroke-width="1.2" />
<path d="M1239.3 728.0 L1335.5 764.3 L1335.5 816.1" stroke="#ff8000" stroke-width="1.4" fill="none" />
<line x1="1339.6" y1="863.7" x2="1557.0" y2="757.1" stroke="#ff8000" stroke-width="1" />
<line x1="1478.5" y1="753.4" x2="1550.8" y2="753.4" stroke="#ff8000" stroke-width="1.7" />
<line x1="1478.5" y1="1137.8" x2="1552.0" y2="1137.8" stroke="#ff8000" stroke-width="1.7" />
<line x1="1488.6" y1="753.4" x2="1488.6" y2="1137.8" stroke="#ff8000" stroke-width="1.7" />
<path d="M1488.6 753.4 L1494.6 784.4 L1482.6 784.4 Z" fill="#ff8000"/>
<path d="M1488.6 1137.8 L1482.6 1106.8 L1494.6 1106.8 Z" fill="#ff8000"/>
<line x1="1579.5" y1="1135.0" x2="1692.9" y2="1135.0" stroke="#ff8000" stroke-width="1.7" />
<line x1="1634.0" y1="1489.3" x2="1692.9" y2="1489.3" stroke="#ff8000" stroke-width="1.7" />
<line x1="1682.4" y1="1135.0" x2="1682.4" y2="1489.3" stroke="#ff8000" stroke-width="1.7" />
<path d="M1682.4 1135.0 L1688.4 1166.0 L1676.4 1166.0 Z" fill="#ff8000"/>
<path d="M1682.4 1489.3 L1676.4 1458.3 L1688.4 1458.3 Z" fill="#ff8000"/>
<path d="M1456.0 1412.6 L1537.2 1412.6 L1571.3 1477.8" stroke="#ff8000" stroke-width="1.4" fill="none" />
<line x1="1561.5" y1="1478.5" x2="1580.0" y2="1478.5" stroke="#ff8000" stroke-width="1.2" />
<path d="M1562.0 1478.5 L1531.0 1484.5 L1531.0 1472.5 Z" fill="#ff8000"/>
<path d="M1579.4 1478.5 L1610.4 1472.5 L1610.4 1484.5 Z" fill="#ff8000"/>
<line x1="1561.7" y1="1467.7" x2="1561.7" y2="1483.2" stroke="#ff8000" stroke-width="1.2" />
<line x1="1579.0" y1="1473.3" x2="1579.0" y2="1488.8" stroke="#ff8000" stroke-width="1.4" />
<line x1="1225.2" y1="1493.7" x2="1225.2" y2="1653.5" stroke="#ff8000" stroke-width="1.7" />
<line x1="1579.2" y1="1494.4" x2="1579.2" y2="1653.5" stroke="#ff8000" stroke-width="1.7" />
<line x1="1225.2" y1="1644.0" x2="1579.2" y2="1644.0" stroke="#ff8000" stroke-width="1.7" />
<path d="M1225.2 1644.0 L1256.2 1638.0 L1256.2 1650.0 Z" fill="#ff8000"/>
<path d="M1579.2 1644.0 L1548.2 1650.0 L1548.2 1638.0 Z" fill="#ff8000"/>
</svg>
</body></html>
